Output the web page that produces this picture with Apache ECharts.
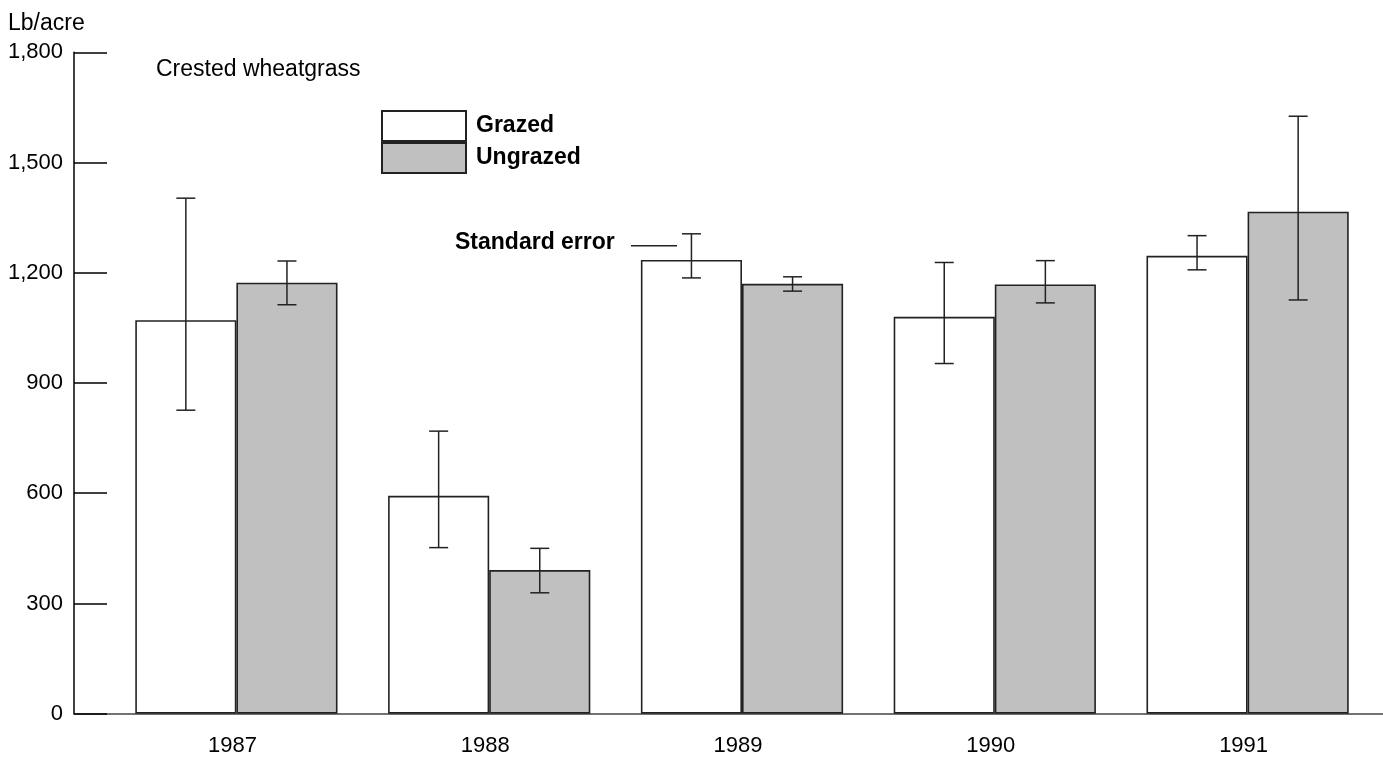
<!DOCTYPE html>
<html>
<head>
<meta charset="utf-8">
<script src="https://cdn.jsdelivr.net/npm/echarts@6/dist/echarts.min.js"></script>
<style>html,body{margin:0;padding:0;background:#fff}#c{width:1383px;height:760px}</style>
</head>
<body>
<div id="c"></div>
<script>
// ---- data ----
const years = ['1987', '1988', '1989', '1990', '1991'];
const grazed = [1071, 593, 1235, 1080, 1246];
const grazedLow = [826, 452, 1186, 953, 1208];
const grazedHigh = [1403, 769, 1306, 1228, 1301];
const ungrazed = [1173, 391, 1170, 1168, 1366];
const ungrazedLow = [1113, 329, 1150, 1118, 1126];
const ungrazedHigh = [1232, 450, 1189, 1233, 1626];
const yTicks = { min: 0, max: 1800, interval: 300 };

const FONT = "'Liberation Sans', Arial, Helvetica, sans-serif";
const chart = echarts.init(document.getElementById('c'), null, { renderer: 'canvas' });

function errData(low, high) {
  return years.map((y, i) => [i, low[i], high[i]]);
}
function errRender(offsetFrac) {
  return function (params, api) {
    const idx = api.value(0);
    const band = api.size([1, 0])[0];
    const x = api.coord([idx, 0])[0] + offsetFrac * band;
    const yl = api.coord([idx, api.value(1)])[1];
    const yh = api.coord([idx, api.value(2)])[1];
    const hw = 9.5;
    const st = { stroke: '#222', lineWidth: 1.5 };
    return {
      type: 'group',
      children: [
        { type: 'line', shape: { x1: x, y1: yh, x2: x, y2: yl }, style: st },
        { type: 'line', shape: { x1: x - hw, y1: yh, x2: x + hw, y2: yh }, style: st },
        { type: 'line', shape: { x1: x - hw, y1: yl, x2: x + hw, y2: yl }, style: st }
      ]
    };
  };
}

const option = {
  animation: false,
  backgroundColor: '#fff',
  textStyle: { fontFamily: FONT },
  grid: [
    { left: 74, right: 0, top: 52.3, bottom: 46.3 },
    { left: 110, right: 9, top: 52.3, bottom: 46.3 }
  ],
  xAxis: [
    {
      gridIndex: 0, type: 'value', min: 0, max: 1,
      axisLine: { show: true, lineStyle: { color: '#444', width: 1.5 } },
      axisTick: { show: false }, axisLabel: { show: false }, splitLine: { show: false }
    },
    {
      gridIndex: 1, type: 'category', data: years,
      axisLine: { show: false }, axisTick: { show: false },
      axisLabel: { color: '#000', fontSize: 22, fontFamily: FONT, margin: 21, padding: [0, 8, 0, 0] }
    }
  ],
  yAxis: [
    { gridIndex: 0, type: 'value', min: 0, max: 1800, show: false },
    {
      gridIndex: 1, type: 'value', min: yTicks.min, max: yTicks.max, interval: yTicks.interval,
      offset: 36,
      axisLine: { show: true, lineStyle: { color: '#000', width: 1.5 } },
      axisTick: { show: true, inside: true, length: 33, lineStyle: { color: '#000', width: 1.5 } },
      splitLine: { show: false },
      axisLabel: {
        color: '#000', fontSize: 22, fontFamily: FONT, margin: 11,
        formatter: v => v.toLocaleString('en-US')
      }
    }
  ],
  legend: {
    show: true,
    orient: 'vertical',
    left: 381, top: 110,
    padding: 0,
    itemWidth: 84, itemHeight: 30, itemGap: 0,
    icon: 'rect',
    selectedMode: false,
    textStyle: { color: '#000', fontSize: 23, fontWeight: 'bold', fontFamily: FONT, padding: [0, 0, 0, 5] },
    data: ['Grazed', 'Ungrazed']
  },
  series: [
    {
      name: 'Grazed', type: 'bar', xAxisIndex: 1, yAxisIndex: 1,
      data: grazed, barWidth: '40%', barGap: '0%',
      itemStyle: { color: '#fff', borderColor: '#222', borderWidth: 1.6 }
    },
    {
      name: 'Ungrazed', type: 'bar', xAxisIndex: 1, yAxisIndex: 1,
      data: ungrazed, barWidth: '40%', barGap: '0%',
      itemStyle: { color: '#c0c0c0', borderColor: '#222', borderWidth: 1.6 }
    },
    {
      name: 'Grazed SE', type: 'custom', xAxisIndex: 1, yAxisIndex: 1, z: 5,
      renderItem: errRender(-0.2), encode: { x: 0, y: [1, 2] },
      data: errData(grazedLow, grazedHigh)
    },
    {
      name: 'Ungrazed SE', type: 'custom', xAxisIndex: 1, yAxisIndex: 1, z: 5,
      renderItem: errRender(0.2), encode: { x: 0, y: [1, 2] },
      data: errData(ungrazedLow, ungrazedHigh)
    }
  ],
  graphic: [
    { type: 'text', left: 8, top: 12, style: { text: 'Lb/acre', fontSize: 23, fontFamily: FONT, fill: '#000' } },
    { type: 'text', left: 156, top: 58, style: { text: 'Crested wheatgrass', fontSize: 23, fontFamily: FONT, fill: '#000' } },
    { type: 'text', left: 455, top: 231, style: { text: 'Standard error', fontSize: 23, fontWeight: 'bold', fontFamily: FONT, fill: '#000' } },
    { type: 'line', shape: { x1: 631, y1: 245.7, x2: 677, y2: 245.7 }, style: { stroke: '#222', lineWidth: 1.5 } }
  ]
};
chart.setOption(option);
</script>
</body>
</html>
